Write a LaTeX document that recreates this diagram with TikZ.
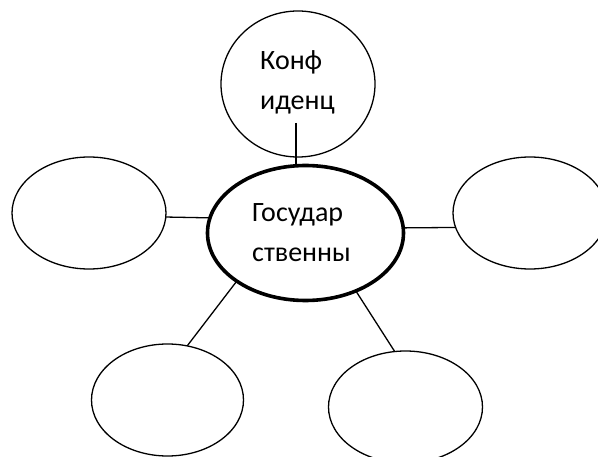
\documentclass[tikz,border=0pt]{standalone}
\usepackage{fontspec}
\setmainfont{Carlito}
\usetikzlibrary{shapes.geometric}
\begin{document}
\begin{tikzpicture}[x=1pt,y=-1pt,
  bubble/.style={draw=black,ellipse,line width=1.3pt,inner sep=0pt,outer sep=0pt},
  mainbubble/.style={draw=black,ellipse,line width=3.6pt,inner sep=0pt,outer sep=0pt},
  link/.style={draw=black,line width=1.3pt},
  lbl/.style={anchor=base west,inner sep=0pt,font=\fontsize{28}{40}\selectfont}]
\clip (0,0) rectangle (598,457);
\fill[white] (0,0) rectangle (598,457);
\node[bubble,minimum width=154pt,minimum height=146pt] (t) at (298,84) {};
\node[mainbubble,minimum width=196pt,minimum height=135pt] (c) at (305.5,233) {};
\node[bubble,minimum width=154pt,minimum height=112pt] (l) at (89,213) {};
\node[bubble,minimum width=154pt,minimum height=112pt] (r) at (530,213) {};
\node[bubble,minimum width=152pt,minimum height=112pt] (bl) at (167.5,400) {};
\node[bubble,minimum width=154pt,minimum height=112pt] (br) at (405.5,407) {};
\node[lbl] (t1) at (260,70) {Конф};
\node[lbl] (t2) at (260,110) {иденц};
\node[lbl] (c1) at (252,221.5) {Государ};
\node[lbl] (c2) at (252,261.5) {ственны};
\coordinate (tstart) at (296,123);
\draw[link] (tstart) -- (tstart |- c.north);
\draw[link] (l.-3.7) -- (c.171.3);
\draw[link] (c.3.4) -- (r.191);
\draw[link] (c.215.9) -- (bl.70.5);
\draw[link] (c.311.7) -- (br.101.6);
\end{tikzpicture}
\end{document}
